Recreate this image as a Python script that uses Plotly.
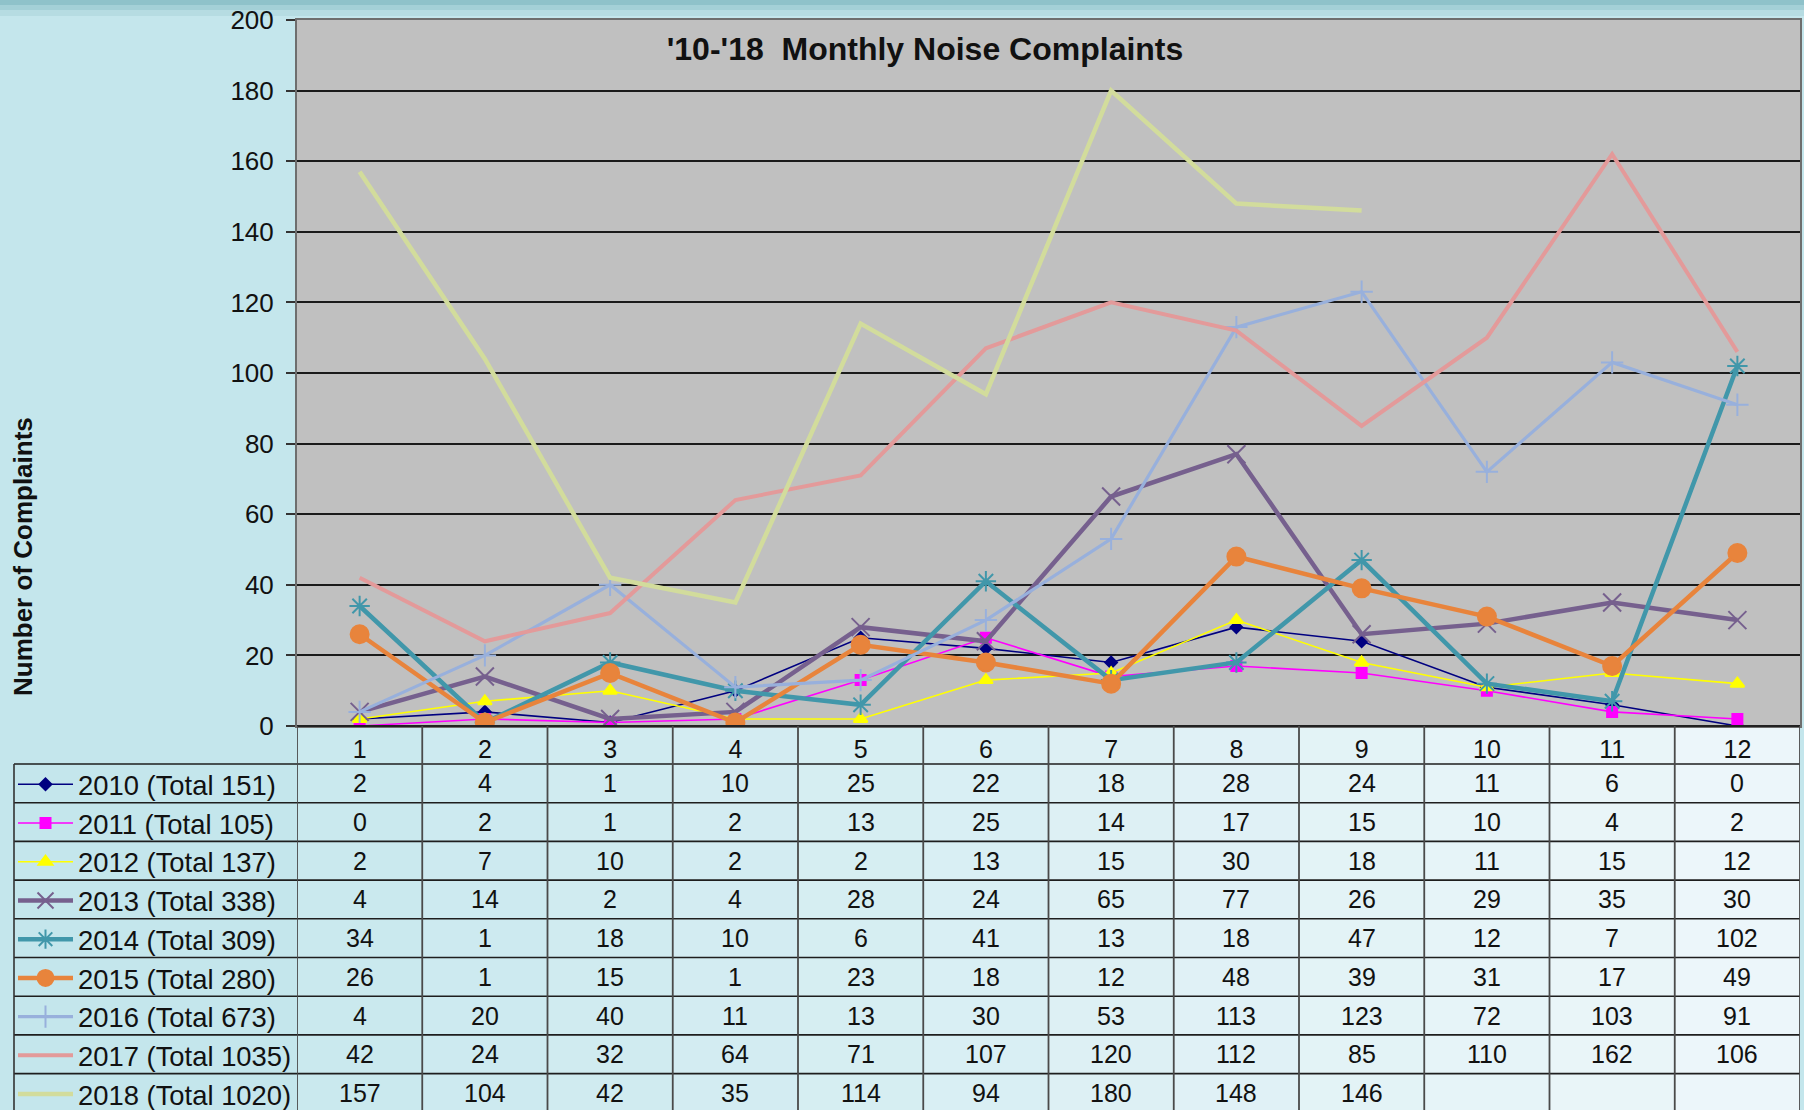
import plotly.graph_objects as go

months = list(range(1, 13))
years = ['2010', '2011', '2012', '2013', '2014', '2015', '2016', '2017', '2018']

y2010 = [2, 4, 1, 10, 25, 22, 18, 28, 24, 11, 6, 0]
y2011 = [0, 2, 1, 2, 13, 25, 14, 17, 15, 10, 4, 2]
y2012 = [2, 7, 10, 2, 2, 13, 15, 30, 18, 11, 15, 12]
y2013 = [4, 14, 2, 4, 28, 24, 65, 77, 26, 29, 35, 30]
y2014 = [34, 1, 18, 10, 6, 41, 13, 18, 47, 12, 7, 102]
y2015 = [26, 1, 15, 1, 23, 18, 12, 48, 39, 31, 17, 49]
y2016 = [4, 20, 40, 11, 13, 30, 53, 113, 123, 72, 103, 91]
y2017 = [42, 24, 32, 64, 71, 107, 120, 112, 85, 110, 162, 106]
y2018 = [157, 104, 42, 35, 114, 94, 180, 148, 146, None, None, None]

series = [y2010, y2011, y2012, y2013, y2014, y2015, y2016, y2017, y2018]

# styling per year
colors = ['#000080', '#ff00ff', '#ffff00', '#76608e', '#4197aa', '#e8843c',
          '#98b0dc', '#e39a9a', '#d2dc9c']
symbols = ['diamond', 'square', 'triangle-up', 'x-thin-open', 'asterisk-open',
           'circle', 'cross-thin-open', None, None]
msizes = [9, 10, 12, 18, 17, 18, 16, 0, 0]
lwidths = [1.6, 1.6, 1.6, 4.5, 4.5, 4.5, 3.2, 4, 4.5]

FONT = 'Liberation Sans, Arial, sans-serif'
L, R, T, B = 297, 1800, 20, 726   # plot area in pixels
PW, PH = R - L, B - T


def px_x(px):
    return (px - L) / PW


def px_y(py):
    return (B - py) / PH


fig = go.Figure()

for yr, vals, c, sym, ms, lw in zip(years, series, colors, symbols, msizes, lwidths):
    total = sum(v for v in vals if v is not None)
    mk = dict(color=c, size=ms, symbol=sym, line=dict(color=c, width=2)) if sym else None
    fig.add_trace(go.Scatter(
        x=months, y=vals, name=f'{yr} (Total {total})',
        mode='lines+markers' if sym else 'lines',
        line=dict(color=c, width=lw), marker=mk,
        legendgroup=yr, connectgaps=False,
    ))

# table geometry
row_h = 38.7
header_top, header_bot = 726, 764
row_edges = [header_bot + i * row_h for i in range(10)]
bottom = 1115

shapes = []
# top darker band of the slide
for (a, b, col) in [(0, 5, '#8fc2ca'), (5, 10, '#a4d0d7'), (10, 16, '#b6dce2')]:
    shapes.append(dict(type='rect', xref='paper', yref='paper', layer='below',
                       x0=px_x(0), x1=px_x(1804), y0=px_y(a), y1=px_y(b),
                       fillcolor=col, line=dict(width=0)))


# column fills (lighter to the right)
def mix(t):
    c0 = (200, 232, 238)
    c1 = (238, 247, 250)
    return 'rgb(%d,%d,%d)' % tuple(round(c0[k] + (c1[k] - c0[k]) * t) for k in range(3))


for m in months:
    shapes.append(dict(type='rect', xref='x', yref='paper', layer='below',
                       x0=m - 0.5, x1=m + 0.5, y0=px_y(header_top), y1=px_y(bottom),
                       fillcolor=mix((m - 0.5) / 12), line=dict(width=0)))

# horizontal table lines
shapes.append(dict(type='line', xref='paper', yref='paper', x0=0, x1=1,
                   y0=0, y1=0, line=dict(color='#222222', width=2)))
for e in row_edges[:-1]:
    shapes.append(dict(type='line', xref='paper', yref='paper', x0=px_x(14), x1=1,
                       y0=px_y(e), y1=px_y(e), line=dict(color='#1e1e1e', width=1.6)))
# vertical table lines
shapes.append(dict(type='line', xref='paper', yref='paper', x0=px_x(14), x1=px_x(14),
                   y0=px_y(header_bot), y1=px_y(bottom), line=dict(color='#333333', width=1.6)))
for k in range(13):
    shapes.append(dict(type='line', xref='x', yref='paper', x0=k + 0.5, x1=k + 0.5,
                       y0=0, y1=px_y(bottom), line=dict(color='#4a4a4a', width=1.8)))

annotations = []
for i, vals in enumerate(series):
    yc = px_y(row_edges[i] + row_h / 2)
    for m, v in zip(months, vals):
        if v is None:
            continue
        annotations.append(dict(x=m, y=yc, xref='x', yref='paper', text=str(v),
                                showarrow=False, xanchor='center', yanchor='middle',
                                font=dict(family=FONT, size=25, color='#111111')))

annotations.append(dict(x=px_x(23), y=px_y(557), xref='paper', yref='paper',
                        text='<b>Number of Complaints</b>', textangle=-90,
                        showarrow=False, xanchor='center', yanchor='middle',
                        font=dict(family=FONT, size=26, color='#111111')))

fig.update_layout(
    width=1804, height=1110,
    margin=dict(l=L, r=1804 - R, t=T, b=1110 - B, autoexpand=False),
    paper_bgcolor='#c4e6ec',
    plot_bgcolor='#c0c0c0',
    title=dict(text="<b>'10-'18\u00a0 Monthly Noise Complaints</b>",
               x=px_x(925), xref='paper', xanchor='center',
               y=1 - 49 / 1110, yref='container', yanchor='middle',
               font=dict(family=FONT, size=32, color='#111111')),
    xaxis=dict(range=[0.5, 12.5], tickvals=months, ticks='', showgrid=False,
               zeroline=False, showline=True, mirror=True, linecolor='#6e6e6e',
               linewidth=2, tickfont=dict(family=FONT, size=25, color='#111111'),
               ticklabelstandoff=0),
    yaxis=dict(range=[0, 200], dtick=20, showgrid=True, gridcolor='#1a1a1a',
               gridwidth=1.5, zeroline=False, ticks='outside', ticklen=9,
               tickcolor='#333333', tickwidth=1.5, showline=True, mirror=True,
               linecolor='#6e6e6e', linewidth=2, ticklabelstandoff=7,
               tickfont=dict(family=FONT, size=26, color='#111111')),
    legend=dict(x=px_x(13), xanchor='left', y=px_y(760), yanchor='top',
                bgcolor='rgba(0,0,0,0)', borderwidth=0, itemwidth=55,
                tracegroupgap=0.1, font=dict(family=FONT, size=27.4, color='#111111')),
    shapes=shapes,
    annotations=annotations,
)

fig.write_html('out.html', config={'displayModeBar': False},
               post_script="document.body.style.margin='0';")
